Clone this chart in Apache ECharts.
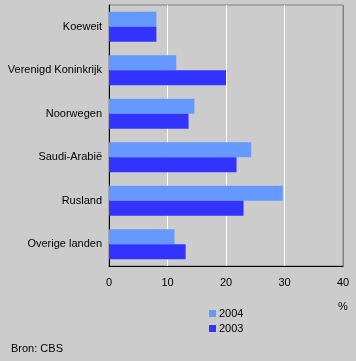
<!DOCTYPE html>
<html><head><meta charset="utf-8">
<script src="https://cdn.jsdelivr.net/npm/echarts@6/dist/echarts.min.js"></script>
<style>html,body{margin:0;padding:0;background:#cccccc;}#c{width:356px;height:361px;}</style>
</head><body><div id="c"></div>
<script>
const categories = ['Koeweit','Verenigd Koninkrijk','Noorwegen','Saudi-Arabië','Rusland','Overige landen'];
const values2004 = [8.1, 11.5, 14.6, 24.3, 29.7, 11.2];
const values2003 = [8.1, 20.0, 13.6, 21.8, 23.0, 13.1];
const xTicks = [0, 10, 20, 30, 40];
const seriesNames = ['2004', '2003'];
const FONT = 'Liberation Sans, Arial, sans-serif';
const chart = echarts.init(document.getElementById('c'));
chart.setOption({
  backgroundColor: '#cccccc',
  animation: false,
  textStyle: {fontFamily: FONT},
  grid: {left: 109, right: 13, top: 5, bottom: 95, show: true, borderColor: '#808080', borderWidth: 1, backgroundColor: 'transparent'},
  xAxis: {
    type: 'value', min: xTicks[0], max: xTicks[xTicks.length-1], interval: 10,
    axisLine: {show: true, lineStyle: {color: '#000', width: 1}},
    axisTick: {show: false},
    axisLabel: {color: '#000', fontSize: 11, fontFamily: FONT, margin: 11},
    splitLine: {show: true, lineStyle: {color: ['#ffffff','#ffffff','#ffffff','#ffffff','#808080'], width: 1}}
  },
  yAxis: {
    type: 'category', data: categories, inverse: true,
    axisLine: {show: true, lineStyle: {color: '#000', width: 1}},
    axisTick: {show: false},
    axisLabel: {color: '#000', fontSize: 11, fontFamily: FONT, margin: 7}
  },
  legend: {
    orient: 'vertical', left: 209, top: 308, padding: 0, itemWidth: 7, itemHeight: 7, itemGap: 4,
    icon: 'rect', textStyle: {color: '#000', fontSize: 11, fontFamily: FONT, padding: [0,0,0,-2]},
    data: seriesNames
  },
  title: [
    {text: '%', left: 333, top: 296, textStyle: {color: '#000', fontSize: 11, fontWeight: 'normal', fontFamily: FONT}},
    {text: 'Bron: CBS', left: 6, top: 338, textStyle: {color: '#000', fontSize: 11, fontWeight: 'normal', fontFamily: FONT}}
  ],
  series: [
    {name: seriesNames[0], type: 'bar', data: values2004, itemStyle: {color: '#6699ff'}, barGap: '0%', barCategoryGap: '31%'},
    {name: seriesNames[1], type: 'bar', data: values2003, itemStyle: {color: '#3333ff'}, barGap: '0%', barCategoryGap: '31%'}
  ]
});
</script></body></html>
